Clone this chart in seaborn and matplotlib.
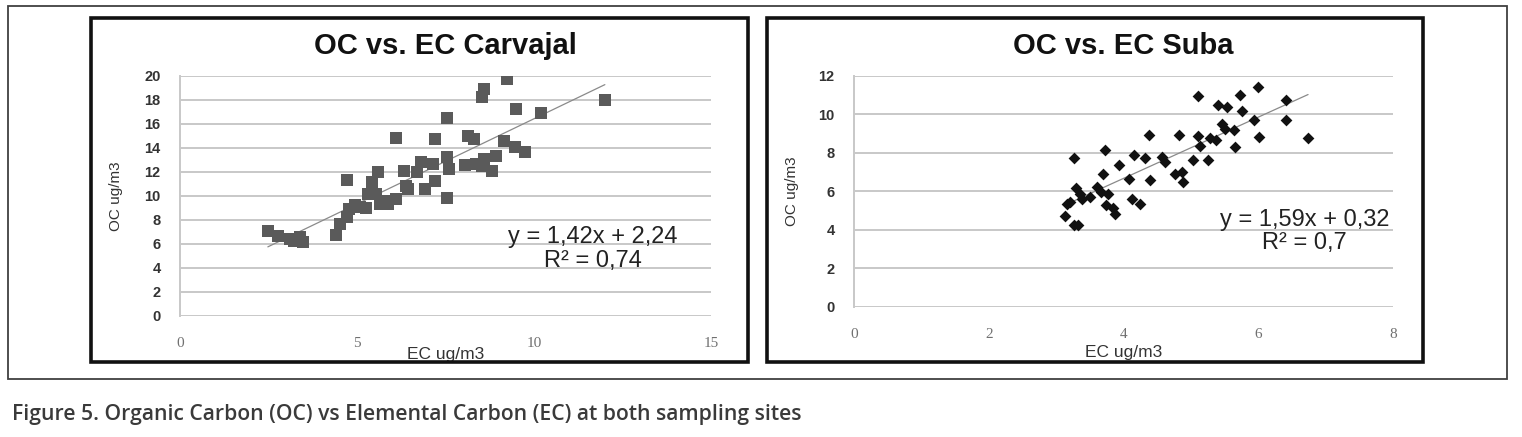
import numpy as np
import pandas as pd
import matplotlib
matplotlib.use('Agg')
import matplotlib.pyplot as plt
import seaborn as sns
from matplotlib.patches import Rectangle

# Carvajal site - EC vs OC (ug/m3)
ec_carvajal = [2.48, 2.76, 3.11, 3.40, 3.46, 3.23, 4.41, 4.52, 4.72, 4.72, 4.78, 4.95,
               5.07, 5.24, 5.41, 5.59, 5.30, 5.53, 5.65, 5.76, 5.88, 6.11, 6.11, 6.34,
               6.39, 6.45, 6.68, 6.80, 6.91, 7.14, 7.20, 7.20, 7.55, 7.55, 7.55, 7.60,
               8.06, 8.12, 8.29, 8.35, 8.53, 8.58, 8.53, 8.58, 8.81, 8.93, 9.16, 9.24,
               9.45, 9.50, 9.73, 10.20, 12.00]
oc_carvajal = [7.05, 6.63, 6.41, 6.55, 6.13, 6.27, 6.77, 7.66, 8.22, 11.36, 8.91, 9.28,
               9.05, 9.00, 11.14, 12.03, 10.17, 10.17, 9.33, 9.61, 9.33, 9.75, 14.85, 12.12,
               10.86, 10.58, 11.98, 12.81, 10.58, 12.67, 14.76, 11.23, 16.52, 13.23, 9.83, 12.26,
               12.62, 15.04, 14.76, 12.67, 18.25, 18.94, 12.53, 13.09, 12.12, 13.37, 14.62, 19.78,
               14.07, 17.27, 13.65, 16.90, 18.00]

# Suba site
ec_suba = [3.13, 3.16, 3.27, 3.29, 3.32, 3.26, 3.21, 3.35, 3.39, 3.51, 3.61, 3.67,
           3.69, 3.72, 3.74, 3.77, 3.84, 3.87, 3.93, 4.08, 4.13, 4.16, 4.25, 4.32,
           4.38, 4.40, 4.57, 4.61, 4.77, 4.83, 4.87, 4.89, 5.03, 5.11, 5.11, 5.14,
           5.25, 5.28, 5.38, 5.41, 5.46, 5.54, 5.51, 5.64, 5.65, 5.73, 5.76, 5.94,
           5.99, 6.01, 6.41, 6.41, 6.74]
oc_suba = [4.71, 5.33, 7.76, 6.20, 4.24, 4.24, 5.45, 5.89, 5.63, 5.71, 6.23, 5.97,
           6.93, 8.14, 5.28, 5.89, 5.16, 4.81, 7.39, 6.67, 5.63, 7.88, 5.33, 7.76,
           8.92, 6.61, 7.79, 7.53, 6.93, 8.92, 7.01, 6.49, 7.62, 10.94, 8.87, 8.35,
           7.62, 8.80, 8.66, 10.51, 9.52, 10.39, 9.26, 9.21, 8.31, 11.00, 10.18, 9.73,
           11.43, 8.83, 10.74, 9.73, 8.80]

# trendline coefficients and labels as printed on the chart
fit_carvajal = (1.42, 2.24)
fit_suba = (1.59, 0.32)
eq_carvajal = ['y = 1,42x + 2,24', 'R² = 0,74']
eq_suba = ['y = 1,59x + 0,32', 'R² = 0,7']

sns.set_style('white')
plt.rcParams['font.family'] = ['Liberation Sans', 'DejaVu Sans']

fig = plt.figure(figsize=(15.22, 4.37), dpi=100)

# frames around the figure and each chart
fig.patches.append(Rectangle((0.0053, 0.1327), 0.9849, 0.8535, transform=fig.transFigure,
                             fill=False, ec='#404040', lw=1.3, zorder=0))
fig.patches.append(Rectangle((0.0598, 0.1716), 0.4317, 0.7872, transform=fig.transFigure,
                             fill=False, ec='#111111', lw=2.6, zorder=0))
fig.patches.append(Rectangle((0.5039, 0.1716), 0.4310, 0.7872, transform=fig.transFigure,
                             fill=False, ec='#111111', lw=2.6, zorder=0))

ax1 = fig.add_axes([0.1183, 0.2769, 0.3489, 0.5492])
ax2 = fig.add_axes([0.5611, 0.2975, 0.3541, 0.5286])


def draw(ax, ec, oc, fit, eq, marker, color, size, xmax, xstep, ymax, title, eqpos,
         xlabpad, ylabpad):
    df = pd.DataFrame({'EC': ec, 'OC': oc})
    slope, icpt = fit
    xs = np.array([min(ec), max(ec)])
    line = pd.DataFrame({'EC': xs, 'OC': slope * xs + icpt})
    sns.lineplot(data=line, x='EC', y='OC', ax=ax, color='#8a8a8a', lw=0.9, zorder=2)
    sns.scatterplot(data=df, x='EC', y='OC', ax=ax, marker=marker, color=color,
                    s=size, edgecolor=color, linewidth=0, zorder=3)
    ax.set_xlim(0, xmax)
    ax.set_ylim(0, ymax)
    ax.set_xticks(np.arange(0, xmax + 0.1, xstep))
    ax.set_yticks(np.arange(0, ymax + 0.1, 2))
    ax.grid(axis='y', color='#c8c8c8', lw=1.4)
    ax.grid(axis='x', visible=False)
    for s in ['top', 'right', 'bottom']:
        ax.spines[s].set_visible(False)
    ax.spines['left'].set_color('#c8c8c8')
    ax.spines['left'].set_linewidth(1.4)
    ax.tick_params(axis='both', length=0)
    ax.tick_params(axis='x', pad=15)
    ax.tick_params(axis='y', pad=14)
    for lb in ax.get_xticklabels():
        lb.set_fontfamily('Liberation Serif')
        lb.set_fontsize(11)
        lb.set_color('#707070')
    for lb in ax.get_yticklabels():
        lb.set_fontsize(10.5)
        lb.set_fontweight('bold')
        lb.set_color('#333333')
    ax.set_xlabel('EC ug/m3', fontsize=12.5, color='#333333', labelpad=xlabpad)
    ax.set_ylabel('OC ug/m3', fontsize=11, color='#333333', labelpad=ylabpad)
    ax.set_title(title, fontsize=21, fontweight='bold', color='#111111', pad=16)
    ex, ey = eqpos
    ax.text(ex, ey, eq[0], fontsize=17, color='#222222', ha='center', va='center')
    ax.text(ex, ey - 2.0 * ymax / 20, eq[1], fontsize=17, color='#222222',
            ha='center', va='center')


draw(ax1, ec_carvajal, oc_carvajal, fit_carvajal, eq_carvajal, 's', '#5a5a5a', 80, 15, 5, 20,
     'OC vs. EC Carvajal', (11.67, 6.58), -2, 15)
draw(ax2, ec_suba, oc_suba, fit_suba, eq_suba, 'D', '#111111', 36, 8, 2, 12,
     'OC vs. EC Suba', (6.69, 4.52), 3, 14)

fig.text(0.0079, 0.052, 'Figure 5. Organic Carbon (OC) vs Elemental Carbon (EC) at both sampling sites',
         fontsize=15.2, fontfamily='Open Sans', fontweight='semibold', color='#3a3a3a',
         ha='left', va='center')

fig.savefig('out.png', dpi=100)
